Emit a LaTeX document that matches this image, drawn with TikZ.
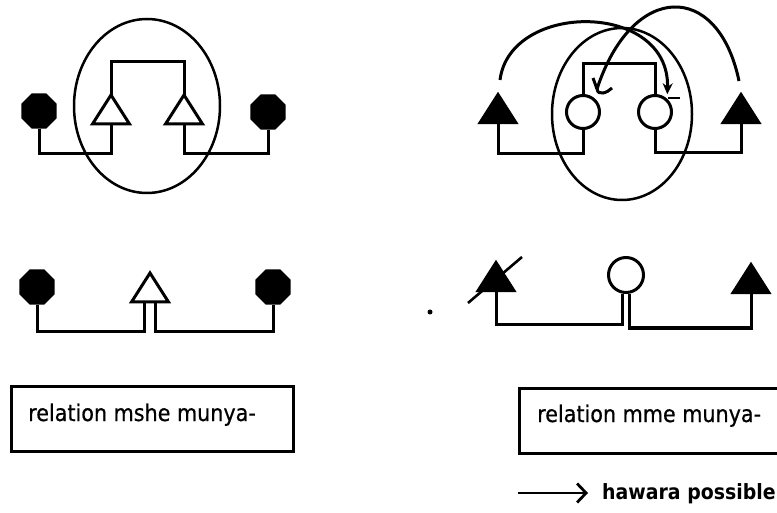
\documentclass[tikz,border=0pt]{standalone}
\usepackage{fontspec}
\setmainfont{DejaVu Sans}
\newfontfamily\boxfont[FakeStretch=0.9,FakeBold=0.6]{DejaVu Sans}
\newfontfamily\notefont[FakeStretch=0.9]{DejaVu Sans Bold}
\usetikzlibrary{shapes.geometric,arrows.meta,calc}
\begin{document}
\begin{tikzpicture}[x=1pt,y=-1pt,
  ln/.style={line width=3pt, line join=miter},
  oct/.style={regular polygon, regular polygon sides=8, fill=black, inner sep=0pt, minimum size=38pt},
  ring/.style={circle, draw, line width=3pt, fill=white, inner sep=0pt, minimum size=33pt},
  oval/.style={ellipse, draw, line width=2.5pt, inner sep=0pt},
  lbl/.style={anchor=base west, inner sep=0pt, font=\boxfont\fontsize{23}{26}\selectfont},
  opentri/.pic={\draw[line width=3pt, fill=white] (0,0) -- (-18.5,29) -- (18.5,29) -- cycle;
    \coordinate (-a) at (0,0); \coordinate (-b) at (0,29);},
  solidtri/.pic={\draw[line width=2.4pt, fill=black] (0,0) -- (-18.5,29) -- (18.5,29) -- cycle;
    \coordinate (-a) at (0,0); \coordinate (-b) at (0,29);},
  box/.style={draw, line width=2.6pt, inner sep=0pt, anchor=north west}
]
\path[use as bounding box, clip] (0,0) rectangle (777,513);

% ---------- top left ----------
\node[oval, minimum width=146pt, minimum height=174pt] (e1) at (147,106) {};
\node[oct] (o1) at (39,111) {};
\node[oct] (o2) at (268,112) {};
\pic (t1) at (111,95) {opentri};
\pic (t2) at (184,95) {opentri};
\draw[ln] (t1-a) -- ++(0,-33) -| (t2-a);
\draw[ln] (o1.south) -- ++(0,25) -| (t1-b);
\draw[ln] (o2.south) -- ++(0,24) -| (t2-b);

% ---------- top right ----------
\node[oval, minimum width=140pt, minimum height=172pt] (e2) at (622,114) {};
\node[ring] (c1) at (583,112) {};
\node[ring] (c2) at (655,112) {};
\draw[ln] (c1.north) -- ++(0,-30) -| (c2.north);
\pic (t3) at (498,94) {solidtri};
\pic (t4) at (741,94) {solidtri};
\draw[ln] (c1.south) -- ++(0,24) -| (t3-b);
\draw[ln] (c2.south) -- ++(0,23) -| (t4-b);
% crossing arcs
\coordinate (hk) at (597,89);
\draw[ln, -{Stealth[length=11pt,width=10pt]}] ($(t3-a)+(2,-14)$) .. controls (510,1) and (670,1) .. ($(c2.55)+(2,-3)$);
\draw[line width=2.4pt] ($(c2.55)+(3,1)$) -- ++(12,0);
\draw[ln] ($(t4-a)+(-2,-13)$) .. controls (718,-20) and (632,-18) .. (hk);
\draw[ln] (hk) -- ++(-4,-11);
\draw[ln] (hk) .. controls ++(1,7) and ++(-5,5) .. ++(15,-1);

% ---------- bottom left ----------
\node[oct] (o3) at (37,287) {};
\node[oct] (o4) at (273,287) {};
\pic (t5) at (150,273) {opentri};
\draw[ln] (o3.south) -- ++(0,27) -| ($(t5-b)+(-5.5,0)$);
\draw[ln] (o4.south) -- ++(0,27) -| ($(t5-b)+(5.5,0)$);

% ---------- bottom right ----------
\pic (t6) at (496,262) {solidtri};
\node[ring, minimum size=35pt] (c3) at (626,275) {};
\pic (t7) at (751,264) {solidtri};
\draw[ln] (t6-b) |- ($(c3.south)+(-3.5,31)$) -- ($(c3.south)+(-3.5,0)$);
\draw[ln] ($(c3.south)+(3.5,0)$) -- ++(0,34) -| (t7-b);
\draw[line width=2.6pt] ($(t6-a)+(-28,41)$) -- ($(t6-a)+(26,-5)$);
\fill (430,312) circle (2.5pt);

% ---------- boxes and labels ----------
\node[box, minimum width=282pt, minimum height=65pt] (b1) at (10,385) {};
\node[lbl] (l1) at (28,421) {relation mshe munya-};
\node[box, minimum width=280pt, minimum height=65pt] (b2) at (518,387) {};
\node[lbl] (l2) at (537,422) {relation mme munya-};
\coordinate (ar0) at (518,493);
\node[lbl, font=\notefont\fontsize{21}{24}\selectfont] (l3) at (602,499) {hawara possible};
\draw[line width=2.6pt, -{Straight Barb[length=9pt,width=19pt,line width=2.8pt]}] (ar0) -- ($(l3.base west)+(-14,-6)$);
\end{tikzpicture}
\end{document}
